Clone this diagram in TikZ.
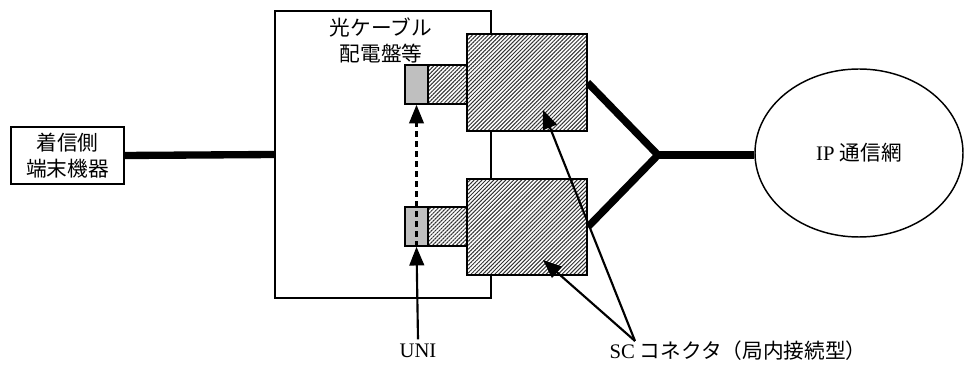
\documentclass[tikz,border=0pt]{standalone}
\usepackage{fontspec}
\setmainfont{Liberation Serif}
\newfontfamily\jp{Noto Sans CJK JP}
\usetikzlibrary{arrows.meta,patterns.meta,shapes.geometric}
\pgfdeclarelayer{background}
\pgfsetlayers{background,main}

\begin{document}
\begin{tikzpicture}[x=0.75pt,y=-0.75pt,
    font=\fontsize{15.5}{19.5}\selectfont,
    box/.style={draw,line width=1.2pt,inner sep=0pt},
    hatch/.style={box,preaction={fill=white},
      pattern={Lines[angle=45,distance=2.1pt,line width=0.75pt]},pattern color=black!80},
    unibox/.style={box,fill=black!25,minimum width=17.25pt,minimum height=29.25pt},
    plug/.style={hatch,minimum width=29.25pt,minimum height=29.25pt},
    cable/.style={line width=5.5pt},
    leadarrow/.style={line width=1.6pt,-{Triangle[length=14pt,width=11pt]}}]
  \useasboundingbox (0,0) rectangle (965,373);

  % terminal and panel
  \node[box,minimum width=84.75pt,minimum height=42.75pt,align=center] (term) at (67.5,155.5)
    {{\jp 着信側}\\{\jp 端末機器}};
  \node[box,minimum width=162pt,minimum height=215.25pt] (panel) at (383,154.5) {};
  \node[align=center] (panellabel) at (381,40) {{\jp 光ケーブル}\\{\jp 配電盤等}};

  % connectors
  \node[hatch,minimum width=90pt,minimum height=72.75pt] (big1) at (527,82.5) {};
  \node[hatch,minimum width=90pt,minimum height=72pt] (big2) at (527,227) {};
  \node[plug] (plug1) at (447.5,84.5) {};
  \node[plug] (plug2) at (447.5,226.5) {};
  \node[unibox] (uni1) at (416.5,84.5) {};
  \node[unibox] (uni2) at (416.5,226.5) {};

  % network
  \node[draw,ellipse,line width=1.1pt,minimum width=156pt,minimum height=126pt] (net) at (859,153)
    {IP {\jp 通信網}};
  \coordinate (jn) at (658,155);

  \begin{pgfonlayer}{background}
    \draw[cable] (term.east) -- (panel.west);
    \draw[cable] (big1.east) -- (jn) -- (big2.east);
    \draw[cable] (jn) -- (jn -| net.west);
  \end{pgfonlayer}

  % labels
  \node (unilabel) at (418,351) {UNI};
  \node (sclabel) at (738,351) {SC {\jp コネクタ（局内接続型）}};
  \coordinate (sc) at (635,341);
  \coordinate (t1) at (543,110);
  \coordinate (t2) at (543,260);

  \draw[leadarrow,dash pattern=on 4.5pt off 3pt] (uni2.south) -- (uni1.south);
  \draw[leadarrow] (unilabel.north) -- (uni2.south);
  \draw[leadarrow] (sc) -- (t1);
  \draw[leadarrow] (sc) -- (t2);
\end{tikzpicture}
\end{document}
